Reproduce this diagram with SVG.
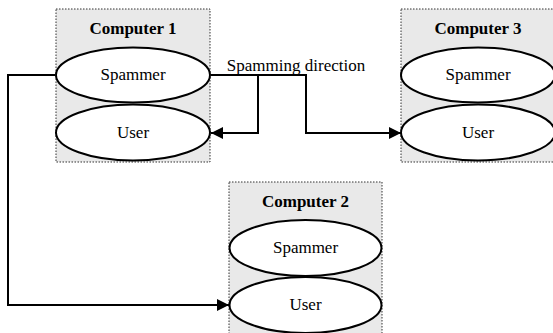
<svg xmlns="http://www.w3.org/2000/svg" width="553" height="333" viewBox="0 0 553 333">
<defs>
<style>
.box{fill:#e9e9e9;stroke:#333;stroke-width:1;stroke-dasharray:1.5 1.5}
.el{fill:#fff;stroke:#000;stroke-width:2}
.t{font-family:"Liberation Serif","Times New Roman",serif;font-size:17px;text-anchor:middle;fill:#000}
.b{font-weight:bold}
.c{fill:none;stroke:#000;stroke-width:2}
</style>
<marker id="ah" viewBox="0 0 10 10" refX="10" refY="5" markerWidth="16" markerHeight="12" markerUnits="userSpaceOnUse" orient="auto">
<path d="M0,0 L10,5 L0,10 Z" fill="#000"/>
</marker>
</defs>
<g id="computer1">
<rect class="box" x="56" y="9" width="154" height="153"/>
<text class="t b" x="133" y="34">Computer 1</text>
<ellipse id="spammer1" class="el" cx="133" cy="75" rx="77" ry="27.5"/>
<text class="t" x="133" y="80">Spammer</text>
<ellipse id="user1" class="el" cx="133" cy="132.5" rx="77" ry="28"/>
<text class="t" x="133" y="137.5">User</text>
</g>
<g id="computer3">
<rect class="box" x="401" y="9" width="154" height="153"/>
<text class="t b" x="478" y="34">Computer 3</text>
<ellipse id="spammer3" class="el" cx="478" cy="75" rx="77" ry="27.5"/>
<text class="t" x="478" y="80">Spammer</text>
<ellipse id="user3" class="el" cx="478" cy="132.5" rx="77" ry="28"/>
<text class="t" x="478" y="137.5">User</text>
</g>
<g id="computer2">
<rect class="box" x="229" y="182" width="153" height="160"/>
<text class="t b" x="305.5" y="207">Computer 2</text>
<ellipse id="spammer2" class="el" cx="305.5" cy="248" rx="76" ry="28"/>
<text class="t" x="305.5" y="253">Spammer</text>
<ellipse id="user2" class="el" cx="305.5" cy="305" rx="76" ry="28"/>
<text class="t" x="305.5" y="310">User</text>
</g>
<g id="connectors">
<path class="c" d="M211,75 H306 V133 H401" marker-end="url(#ah)"/>
<path class="c" d="M258,75 V133 H211" marker-end="url(#ah)"/>
<path class="c" d="M55,75 H8 V305 H229" marker-end="url(#ah)"/>
<text class="t" x="296" y="71">Spamming direction</text>
</g>
</svg>
